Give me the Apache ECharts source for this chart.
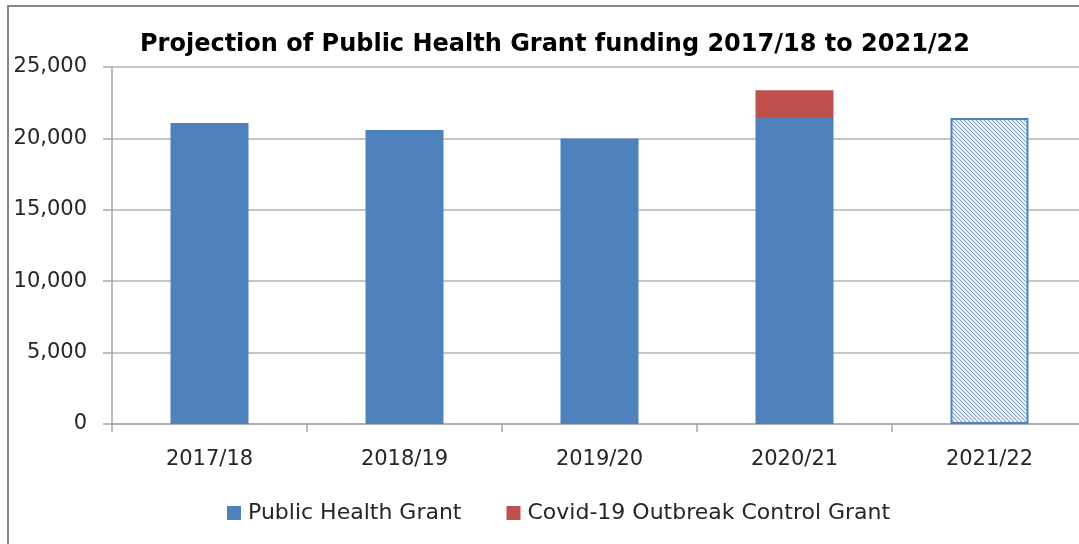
<!DOCTYPE html>
<html>
<head>
<meta charset="utf-8">
<script src="https://cdn.jsdelivr.net/npm/echarts@6/dist/echarts.min.js"></script>
<style>
  html, body { margin: 0; padding: 0; background: #fff; overflow: hidden; }
  #chart { width: 1087px; height: 544px; }
</style>
</head>
<body>
<div id="chart"></div>
<script>
// Funding by financial year (£000s)
const years = ['2017/18', '2018/19', '2019/20', '2020/21', '2021/22'];
const publicHealthGrant = [21080, 20590, 19990, 21430, 21430];
const covidControlGrant = [null, null, null, 1940, null];
const yTicks = [0, 5000, 10000, 15000, 20000, 25000];

const BLUE = '#4F81BD';
const RED = '#C0504D';

// Diagonal hatch used for the projected year
function hatchPattern() {
  const s = 4;
  const c = document.createElement('canvas');
  c.width = s; c.height = s;
  const g = c.getContext('2d');
  g.fillStyle = '#ffffff';
  g.fillRect(0, 0, s, s);
  g.strokeStyle = '#7FA4D6';
  g.lineWidth = 1.1;
  g.beginPath();
  g.moveTo(-1, -1); g.lineTo(s + 1, s + 1);
  g.moveTo(-1, s - 1); g.lineTo(1, s + 1);
  g.moveTo(s - 1, -1); g.lineTo(s + 1, 1);
  g.stroke();
  return c;
}

const phgData = publicHealthGrant.map((v, i) => {
  if (i === years.length - 1) {
    return {
      value: v,
      itemStyle: {
        color: { image: hatchPattern(), repeat: 'repeat' },
        borderColor: BLUE,
        borderWidth: 2
      }
    };
  }
  return v;
});

const chart = echarts.init(document.getElementById('chart'), null, { renderer: 'canvas' });
const fmt = v => v.toLocaleString('en-GB');

chart.setOption({
  animation: false,
  backgroundColor: '#ffffff',
  textStyle: { fontFamily: 'DejaVu Sans' },
  title: {
    text: 'Projection of Public Health Grant funding 2017/18 to 2021/22',
    left: 550,
    textAlign: 'center',
    top: 28,
    textStyle: {
      fontFamily: 'DejaVu Sans',
      fontWeight: 'bold',
      fontSize: 24,
      color: '#000000'
    }
  },
  legend: {
    left: 222,
    top: 497,
    itemWidth: 14,
    itemHeight: 14,
    itemGap: 45,
    icon: 'rect',
    textStyle: { fontFamily: 'DejaVu Sans', fontSize: 22, color: '#262626', padding: [0, 0, 0, 2] },
    data: ['Public Health Grant', 'Covid-19 Outbreak Control Grant']
  },
  grid: { left: 112, right: 0, top: 67, bottom: 120, containLabel: false },
  xAxis: {
    type: 'category',
    data: years,
    boundaryGap: true,
    axisLine: { lineStyle: { color: '#A6A6A6', width: 1.5 } },
    axisTick: { show: true, length: 8, lineStyle: { color: '#A6A6A6', width: 1.5 } },
    axisLabel: { fontSize: 21, color: '#262626', margin: 25, fontFamily: 'DejaVu Sans' }
  },
  yAxis: {
    type: 'value',
    min: yTicks[0],
    max: yTicks[yTicks.length - 1],
    interval: 5000,
    axisLine: { show: true, lineStyle: { color: '#A6A6A6', width: 1.5 } },
    axisTick: { show: true, length: 9, lineStyle: { color: '#A6A6A6', width: 1.5 } },
    splitLine: { lineStyle: { color: '#B3B3B3', width: 1.5 } },
    axisLabel: { fontSize: 21, color: '#262626', margin: 25, formatter: fmt, fontFamily: 'DejaVu Sans' }
  },
  series: [
    {
      name: 'Public Health Grant',
      type: 'bar',
      stack: 'funding',
      barWidth: '40%',
      itemStyle: { color: BLUE },
      data: phgData
    },
    {
      name: 'Covid-19 Outbreak Control Grant',
      type: 'bar',
      stack: 'funding',
      barWidth: '40%',
      itemStyle: { color: RED },
      data: covidControlGrant
    }
  ],
  graphic: [
    {
      type: 'polyline',
      silent: true,
      shape: { points: [[8, 560], [8, 6], [1100, 6]] },
      style: { stroke: '#868686', lineWidth: 2, fill: null }
    }
  ]
});
</script>
</body>
</html>
